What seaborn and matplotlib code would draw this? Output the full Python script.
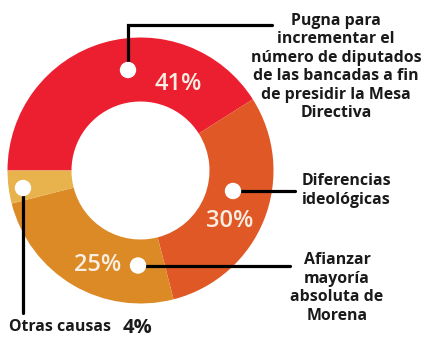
import matplotlib
matplotlib.use("Agg")
import matplotlib.pyplot as plt
import seaborn as sns

# Causes of the conflict and their share (percent)
causas = [
    "Pugna para\nincrementar el\nnúmero de diputados\nde las bancadas a fin\nde presidir la Mesa\nDirectiva",
    "Diferencias\nideológicas",
    "Afianzar\nmayoría\nabsoluta de\nMorena",
    "Otras causas",
]
porcentajes = [41, 30, 25, 4]
colores = ["#EC1F30", "#E05826", "#DC8A26", "#E8B24C"]

sns.set_theme(style="white")
plt.rcParams["font.family"] = ["Open Sans", "DejaVu Sans"]

W, H = 422, 341
fig = plt.figure(figsize=(W / 100, H / 100), dpi=100)
ax = fig.add_axes([0, 0, 1, 1])
ax.set_xlim(0, W)
ax.set_ylim(0, H)
ax.set_aspect("equal")
ax.axis("off")


def Y(y):
    # pixel row (from top) to data y
    return H - y


cx, cy, r_out, r_in = 140.5, 170.5, 133, 69
ax.pie(porcentajes, colors=colores, startangle=180, counterclock=False,
       center=(cx, Y(cy)), radius=r_out,
       wedgeprops=dict(width=r_out - r_in, linewidth=0))
ax.set_xlim(0, W)
ax.set_ylim(0, H)

lw = 2.3
# leader lines
ax.plot([128, 128, 272], [Y(70), Y(25), Y(25)], color="black", lw=lw, zorder=3,
        solid_joinstyle="miter")
ax.plot([233, 295], [Y(191), Y(191)], color="black", lw=lw, zorder=3)
ax.plot([138, 290], [Y(265.5), Y(265.5)], color="black", lw=lw, zorder=3)
ax.plot([23, 23], [Y(188), Y(313)], color="black", lw=lw, zorder=3)

# white markers on the ring
for (px, py) in [(128, 70), (233, 191), (138, 265.5), (23, 188)]:
    ax.add_patch(plt.Circle((px, Y(py)), 7.5, color="white", zorder=4))

# percentages inside the ring
pct_color = "#FAEDE2"
for val, (px, py) in zip(porcentajes[:3], [(178, 84), (230, 221), (98, 265)]):
    ax.text(px, Y(py), f"{val}%", color=pct_color, fontsize=17,
            fontweight="semibold", ha="center", va="center", zorder=5)

txt = dict(color="#1a1a1a", fontsize=11.4, fontweight="bold", linespacing=1.2)
ax.text(336, Y(67), causas[0], ha="center", va="center", **txt)
ax.text(302, Y(190.5), causas[1], ha="left", va="center", **txt)
ax.text(337, Y(288), causas[2], ha="center", va="center", **txt)
ax.text(9, Y(327), causas[3], ha="left", va="center", **txt)
ax.text(123, Y(328), f"{porcentajes[3]}%", ha="left", va="center",
        color="#1a1a1a", fontsize=14.5, fontweight="bold")

fig.savefig("out.png", dpi=100)
